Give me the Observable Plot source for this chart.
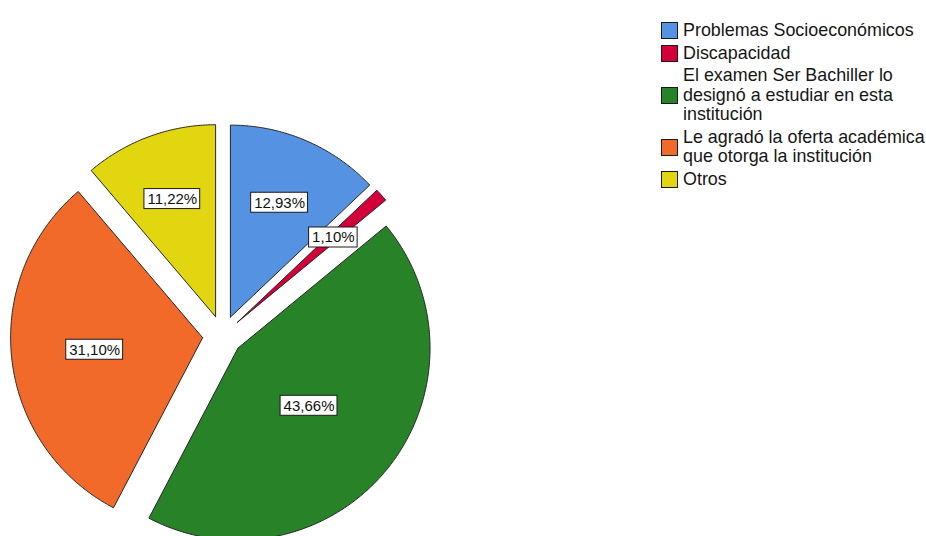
<!DOCTYPE html>
<html>
<head>
<meta charset="utf-8">
<script src="https://cdn.jsdelivr.net/npm/d3@7"></script>
<script src="https://cdn.jsdelivr.net/npm/@observablehq/plot@0.6"></script>
<style>
  html, body { margin: 0; padding: 0; background: #fff; overflow: hidden; }
  #wrap { position: relative; width: 926px; height: 536px; overflow: hidden; }
  #legend { position: absolute; left: 661px; top: 21px; font-family: "Liberation Sans", Arial, sans-serif; font-size: 17.9px; color: #161616; }
  .item { display: flex; align-items: center; margin-bottom: 3px; }
  .sw { width: 15px; height: 15px; border: 1px solid #1a1a1a; margin-right: 5px; flex: none; }
  .lab { line-height: 19.5px; white-space: pre; }
</style>
</head>
<body>
<div id="wrap"><div id="legend"></div></div>
<script>
const categories = [
  "Problemas Socioeconómicos",
  "Discapacidad",
  "El examen Ser Bachiller lo\ndesignó a estudiar en esta\ninstitución",
  "Le agradó la oferta académica\nque otorga la institución",
  "Otros"
];
const values = [12.93, 1.10, 43.66, 31.10, 11.22];
const labels = ["12,93%", "1,10%", "43,66%", "31,10%", "11,22%"];
const colors = ["#5592E1", "#D3003A", "#288228", "#F26A2A", "#E2D610"];

const W = 926, H = 536;
const R = 192;              // pie radius in px
const CX = 222, CY = 335;   // pie centre in px
const explode = 20 / R;     // explosion distance in radius units

const total = d3.sum(values);
const slices = [];
let acc = 0;
values.forEach((v, i) => {
  const a0 = acc / total * 2 * Math.PI;
  acc += v;
  const a1 = acc / total * 2 * Math.PI;
  slices.push({i, a0, a1});
});

const dir = a => [Math.sin(a), -Math.cos(a)];

const marks = [];
const labelRows = [];
const ctx = document.createElement("canvas").getContext("2d");
ctx.font = "15px 'Liberation Sans'";

slices.forEach(s => {
  const mid = (s.a0 + s.a1) / 2;
  const [mx, my] = dir(mid);
  const cx = mx * explode, cy = my * explode;
  const pts = [{x: cx, y: cy}];
  const n = Math.max(2, Math.ceil((s.a1 - s.a0) / (Math.PI / 360)));
  for (let k = 0; k <= n; k++) {
    const a = s.a0 + (s.a1 - s.a0) * k / n;
    const [dx, dy] = dir(a);
    pts.push({x: cx + dx, y: cy + dy});
  }
  pts.push({x: cx, y: cy});
  marks.push(Plot.line(pts, {x: "x", y: "y", fill: colors[s.i], stroke: "#262626", strokeWidth: 1, strokeLinejoin: "miter", curve: "linear"}));
  const alpha = s.a1 - s.a0;
  const dist = 4 * Math.sin(alpha / 2) / (3 * alpha);
  const lx = cx + mx * dist, ly = cy + my * dist;
  const tw = ctx.measureText(labels[s.i]).width;
  const hw = (tw / 2 + 3) / R, hh = 10 / R;
  labelRows.push({x: lx, y: ly, x1: lx - hw, x2: lx + hw, y1: ly - hh, y2: ly + hh, text: labels[s.i]});
});

marks.push(Plot.rect(labelRows, {x1: "x1", x2: "x2", y1: "y1", y2: "y2", fill: "white", stroke: "#1a1a1a", strokeWidth: 1}));
marks.push(Plot.text(labelRows, {x: "x", y: "y", text: "text", fontSize: 15, fill: "#111", fontFamily: "Liberation Sans, Arial, sans-serif"}));

const chart = Plot.plot({
  width: W, height: H,
  margin: 0,
  x: {domain: [-CX / R, (W - CX) / R], range: [0, W], axis: null},
  y: {domain: [-CY / R, (H - CY) / R], range: [0, H], axis: null},
  style: {background: "white", overflow: "hidden"},
  marks
});
document.getElementById("wrap").prepend(chart);

const legend = document.getElementById("legend");
categories.forEach((c, i) => {
  const item = document.createElement("div");
  item.className = "item";
  const sw = document.createElement("div");
  sw.className = "sw";
  sw.style.background = colors[i];
  const lab = document.createElement("div");
  lab.className = "lab";
  lab.textContent = c;
  item.appendChild(sw);
  item.appendChild(lab);
  legend.appendChild(item);
});
</script>
</body>
</html>
